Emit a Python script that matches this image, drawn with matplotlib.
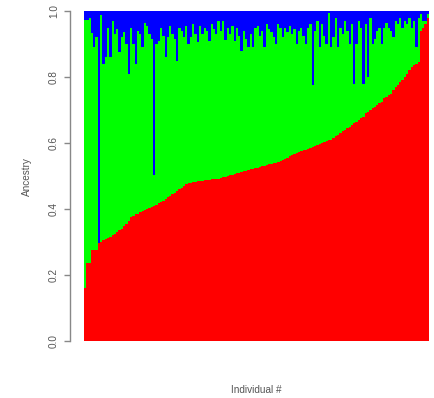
"""
Ancestry barplot: per-individual admixture proportions (3 ancestral groups),
individuals sorted by red-component ancestry.
"""

import matplotlib
matplotlib.use("Agg")
import matplotlib.pyplot as plt
import numpy as np

RED   = "#FF0000"
GREEN = "#00FF00"
BLUE  = "#0000FF"
GREY  = "#555555"

# ancestry fraction of the red group per individual (sorted)
red_anc = [
    0.16, 0.236, 0.236, 0.276, 0.276, 0.276, 0.297, 0.30, 0.305, 0.31,
    0.312, 0.315, 0.32, 0.325, 0.33, 0.335, 0.34, 0.35, 0.355, 0.365,
    0.375, 0.38, 0.385, 0.385, 0.39, 0.393, 0.397, 0.40, 0.403, 0.406,
    0.41, 0.413, 0.417, 0.42, 0.425, 0.43, 0.436, 0.44, 0.445, 0.45,
    0.455, 0.46, 0.465, 0.47, 0.475, 0.478, 0.48, 0.482, 0.483, 0.484,
    0.485, 0.486, 0.487, 0.488, 0.489, 0.49, 0.49, 0.491, 0.492, 0.494,
    0.496, 0.498, 0.50, 0.502, 0.504, 0.506, 0.508, 0.51, 0.512, 0.514,
    0.516, 0.518, 0.52, 0.522, 0.524, 0.525, 0.527, 0.529, 0.531, 0.533,
    0.535, 0.537, 0.539, 0.54, 0.542, 0.545, 0.548, 0.552, 0.556, 0.56,
    0.563, 0.567, 0.57, 0.573, 0.576, 0.578, 0.58, 0.583, 0.586, 0.589,
    0.592, 0.595, 0.598, 0.60, 0.603, 0.606, 0.608, 0.61, 0.615, 0.62,
    0.625, 0.63, 0.635, 0.64, 0.645, 0.65, 0.655, 0.66, 0.665, 0.67,
    0.675, 0.68, 0.69, 0.695, 0.70, 0.705, 0.71, 0.715, 0.72, 0.725,
    0.735, 0.74, 0.745, 0.75, 0.76, 0.77, 0.775, 0.785, 0.79, 0.80,
    0.81, 0.82, 0.83, 0.835, 0.84, 0.845, 0.94, 0.95, 0.96, 0.98,
]

# ancestry fraction of the blue group per individual
blue_anc = [
    0.027, 0.027, 0.02, 0.067, 0.11, 0.08, 0.703, 0.012, 0.16, 0.14,
    0.05, 0.14, 0.03, 0.07, 0.055, 0.125, 0.08, 0.065, 0.10, 0.19,
    0.05, 0.10, 0.16, 0.06, 0.07, 0.11, 0.035, 0.045, 0.07, 0.085,
    0.497, 0.10, 0.09, 0.05, 0.075, 0.14, 0.08, 0.045, 0.07, 0.085,
    0.15, 0.05, 0.06, 0.08, 0.045, 0.10, 0.08, 0.04, 0.07, 0.095,
    0.045, 0.07, 0.05, 0.06, 0.09, 0.04, 0.055, 0.07, 0.03, 0.06,
    0.03, 0.088, 0.05, 0.07, 0.045, 0.09, 0.05, 0.075, 0.12, 0.06,
    0.085, 0.11, 0.07, 0.11, 0.05, 0.045, 0.075, 0.06, 0.11, 0.04,
    0.055, 0.065, 0.08, 0.10, 0.04, 0.05, 0.08, 0.05, 0.065, 0.045,
    0.07, 0.055, 0.10, 0.06, 0.05, 0.075, 0.10, 0.05, 0.04, 0.225,
    0.06, 0.03, 0.11, 0.04, 0.075, 0.10, 0.005, 0.11, 0.08, 0.02,
    0.11, 0.05, 0.07, 0.03, 0.06, 0.10, 0.04, 0.22, 0.10, 0.03,
    0.05, 0.22, 0.04, 0.20, 0.02, 0.10, 0.085, 0.06, 0.05, 0.10,
    0.05, 0.035, 0.05, 0.06, 0.08, 0.03, 0.04, 0.02, 0.05, 0.03,
    0.04, 0.02, 0.05, 0.03, 0.11, 0.02, 0.01, 0.03, 0.03, 0.01,
]

Y_TICKS = [0.0, 0.2, 0.4, 0.6, 0.8, 1.0]

W, H, DPI = 435, 398, 100


def make_figure(out_path="out.png"):
    red = np.array(red_anc)
    blue = np.array(blue_anc)
    green = 1.0 - red - blue
    n = len(red)
    x = np.arange(n) + 0.5

    fig = plt.figure(figsize=(W / DPI, H / DPI), dpi=DPI)
    fig.patch.set_facecolor("white")
    ax = fig.add_axes([84 / W, 57 / H, 345 / W, 330 / H])

    kw = dict(width=1.0, linewidth=0, antialiased=False)
    ax.bar(x, red, color=RED, **kw)
    ax.bar(x, green, bottom=red, color=GREEN, **kw)
    ax.bar(x, blue, bottom=red + green, color=BLUE, **kw)

    ax.set_xlim(0, n)
    ax.set_ylim(0, 1)

    # R-style detached y axis
    for s in ["top", "right", "bottom"]:
        ax.spines[s].set_visible(False)
    ax.spines["left"].set_position(("outward", 14 * 72 / DPI))
    ax.spines["left"].set_color("#888888")
    ax.spines["left"].set_linewidth(1.0)
    ax.spines["left"].set_bounds(0, 1)

    ax.set_xticks([])
    ax.set_yticks(Y_TICKS)
    ax.set_yticklabels([f"{t:.1f}" for t in Y_TICKS], rotation=90,
                       va="center", fontsize=7.2, color=GREY,
                       family="Liberation Sans")
    ax.tick_params(axis="y", length=4, width=1.0, color="#888888", pad=4)

    fig.text(27 / W, 1 - 177 / H, "Ancestry", rotation=90,
             ha="center", va="center", fontsize=7.2, color=GREY,
             family="Liberation Sans")
    fig.text(256 / W, 1 - 390 / H, "Individual #",
             ha="center", va="center", fontsize=7.2, color=GREY,
             family="Liberation Sans")

    fig.savefig(out_path, dpi=DPI, facecolor="white")
    plt.close(fig)


if __name__ == "__main__":
    make_figure()
